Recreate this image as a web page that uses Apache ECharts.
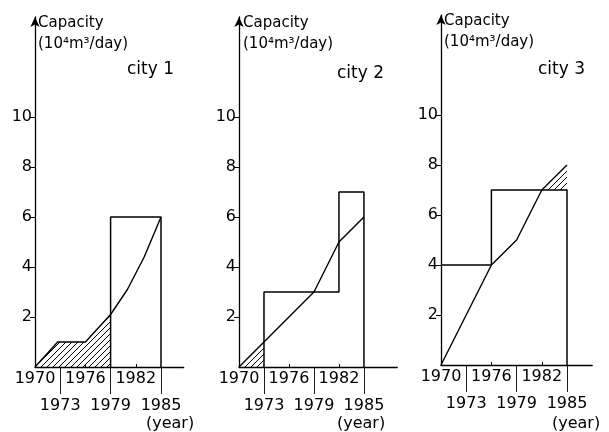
<!DOCTYPE html>
<html><head><meta charset="utf-8">
<script src="https://cdn.jsdelivr.net/npm/echarts@6/dist/echarts.min.js"></script>
<style>html,body{margin:0;padding:0;background:#fff}#c{width:609px;height:432px}</style>
</head><body><div id="c"></div>
<script>
// ---- data ----
const cityNames = ['city 1', 'city 2', 'city 3'];
const axisTitle = 'Capacity\n(10\u2074m\u00b3/day)';
const yearLabel = '(year)';
const yTickValues = [2, 4, 6, 8, 10];
const xLabelsUpper = [1970, 1976, 1982];
const xLabelsLower = [1973, 1979, 1985];
const xMinorTicks = [1976, 1982];

const city1Demand = [[1970, 0], [1972.7, 1], [1976, 1], [1979, 2.1], [1981, 3.1], [1983, 4.4], [1985, 6]];
const city1Supply = [[1979, 0], [1979, 6], [1985, 6], [1985, 0]];
const city2Demand = [[1970, 0], [1973, 1], [1976, 2], [1979, 3], [1982, 5], [1985, 6]];
const city2Supply = [[1973, 0], [1973, 3], [1982, 3], [1982, 7], [1985, 7], [1985, 0]];
const city3Demand = [[1970, 0], [1976, 4], [1979, 5], [1982, 7], [1985, 8]];
const city3Supply = [[1970, 4], [1976, 4], [1976, 7], [1985, 7], [1985, 0]];
// shortage (hatched) ranges: [from year, to year, supply level there]
const city1Shortage = [1970, 1979, 0];
const city2Shortage = [1970, 1973, 0];
const city3Shortage = [1982, 1985, 7];

const demands = [city1Demand, city2Demand, city3Demand];
const supplies = [city1Supply, city2Supply, city3Supply];
const shortages = [city1Shortage, city2Shortage, city3Shortage];

// ---- layout ----
const FONT = 'DejaVu Sans';
const panels = [
  { left: 35, top: 17, xMax: 1987.7, pxYear: 8.4, titleL: 38, titleT: 13, cityL: 127, cityT: 61, yearL: 146 },
  { left: 239, top: 17, xMax: 1989, pxYear: 8.33, titleL: 243, titleT: 13, cityL: 337, cityT: 65, yearL: 337 },
  { left: 441, top: 15, xMax: 1988, pxYear: 8.4, titleL: 444, titleT: 11, cityL: 538, cityT: 61, yearL: 552 }
];
const Y_MAX = 14, PX_UNIT = 25;

function hatchCanvas() {
  const c = document.createElement('canvas');
  c.width = c.height = 6;
  const g = c.getContext('2d');
  g.strokeStyle = '#000'; g.lineWidth = 1;
  g.beginPath();
  g.moveTo(0, 6); g.lineTo(6, 0);
  g.moveTo(-1, 1); g.lineTo(1, -1);
  g.moveTo(5, 7); g.lineTo(7, 5);
  g.stroke();
  return c;
}
const hatch = hatchCanvas();
const yearFmt = v => String(v);

const black = '#000';
const grid = [], xAxis = [], yAxis = [], series = [], title = [];
panels.forEach((p, i) => {
  grid.push({ left: p.left, top: p.top, width: (p.xMax - 1970) * p.pxYear, height: Y_MAX * PX_UNIT });
  xAxis.push({
    gridIndex: i, type: 'value', min: 1970, max: p.xMax, position: 'bottom',
    axisLine: { show: true, onZero: false, lineStyle: { color: black, width: 1.3 } },
    axisTick: { show: true, inside: true, length: 3, customValues: xMinorTicks, lineStyle: { color: black, width: 1 } },
    axisLabel: { customValues: xLabelsUpper, formatter: yearFmt, margin: 4, fontSize: 16, color: black, fontFamily: FONT },
    splitLine: { show: false }
  });
  xAxis.push({
    gridIndex: i, type: 'value', min: 1970, max: p.xMax, position: 'bottom', offset: 0,
    axisLine: { show: false, onZero: false },
    axisTick: { show: true, length: 27, customValues: xLabelsLower, lineStyle: { color: black, width: 0.9 } },
    axisLabel: { customValues: xLabelsLower, formatter: yearFmt, margin: 31, fontSize: 16, color: black, fontFamily: FONT },
    splitLine: { show: false }
  });
  yAxis.push({
    gridIndex: i, type: 'value', min: 0, max: Y_MAX,
    axisLine: { show: true, onZero: false, symbol: ['none', 'arrow'], symbolSize: [7, 10], lineStyle: { color: black, width: 1.3 } },
    axisTick: { show: true, length: 5, customValues: yTickValues, lineStyle: { color: black, width: 1 } },
    axisLabel: { customValues: yTickValues, margin: 3, fontSize: 16, color: black, fontFamily: FONT },
    splitLine: { show: false }
  });

  const [a, b, level] = shortages[i];
  const pts = demands[i].filter(d => d[0] >= a && d[0] <= b);
  series.push({
    type: 'custom', coordinateSystem: 'cartesian2d', xAxisIndex: 2 * i, yAxisIndex: i,
    data: [[a, level]], silent: true, z: 1,
    renderItem: (params, api) => {
      const upper = pts.map(d => api.coord([d[0], d[1]]));
      const lower = pts.slice().reverse().map(d => api.coord([d[0], level]));
      return { type: 'polygon', shape: { points: upper.concat(lower) },
        style: { fill: { image: hatch, repeat: 'repeat' }, stroke: null } };
    }
  });
  series.push({
    type: 'line', xAxisIndex: 2 * i, yAxisIndex: i, symbol: 'none', silent: true,
    data: supplies[i], lineStyle: { color: black, width: 1.5 }, z: 3
  });
  series.push({
    type: 'line', xAxisIndex: 2 * i, yAxisIndex: i, symbol: 'none', silent: true,
    data: demands[i], lineStyle: { color: black, width: 1.4 }, z: 3
  });

  title.push({ text: axisTitle, left: p.titleL, top: p.titleT, padding: 0,
    textStyle: { fontFamily: FONT, fontSize: 15, fontWeight: 'normal', color: black, lineHeight: 21 } });
  title.push({ text: cityNames[i], left: p.cityL, top: p.cityT, padding: 0,
    textStyle: { fontFamily: FONT, fontSize: 17, fontWeight: 'normal', color: black } });
  title.push({ text: yearLabel, left: p.yearL, top: 416, padding: 0,
    textStyle: { fontFamily: FONT, fontSize: 16, fontWeight: 'normal', color: black } });
});

const chart = echarts.init(document.getElementById('c'), null, { renderer: 'canvas' });
chart.setOption({
  backgroundColor: '#fff',
  animation: false,
  title, grid, xAxis, yAxis, series
});
</script>
</body></html>
